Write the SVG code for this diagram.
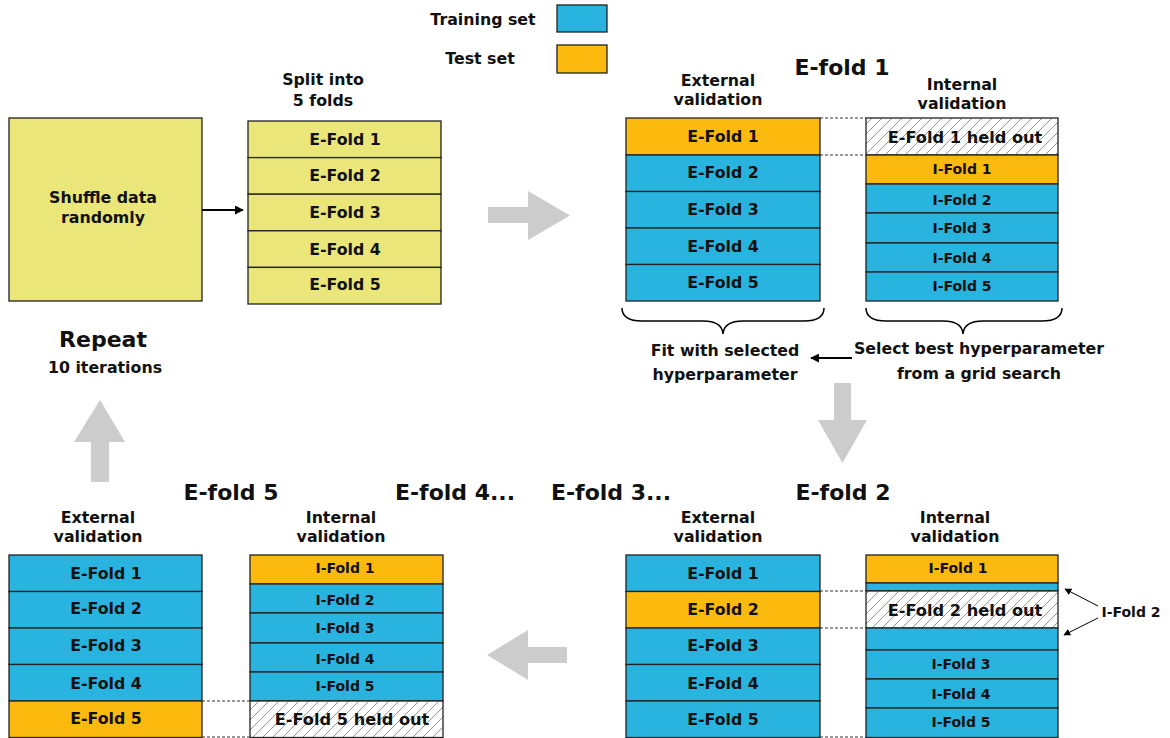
<svg xmlns="http://www.w3.org/2000/svg" width="1170" height="738" viewBox="0 0 1170 738">
<style>
text{font-family:"DejaVu Sans","Liberation Sans",sans-serif;font-weight:bold;fill:#111;text-anchor:middle}
.f{font-size:15.8px}
.s{font-size:14px}
.h{font-size:16.2px}
.t{font-size:22px}
.b{fill:#29B3DF;stroke:#222;stroke-width:1.3}
.o{fill:#FDBA0E;stroke:#222;stroke-width:1.3}
.y{fill:#EAE67A;stroke:#222;stroke-width:1.3}
.x{fill:url(#hatch);stroke:#222;stroke-width:1.3}
.d{stroke:#333;stroke-width:1.1;stroke-dasharray:3,2;fill:none}
.g{fill:#CCCCCC}
.k{stroke:#000;fill:none}
</style>
<defs>
<pattern id="hatch" patternUnits="userSpaceOnUse" width="10" height="10">
<rect width="10" height="10" fill="#fff"/>
<path d="M0,10 L10,0 M-2,2 L2,-2 M8,12 L12,8" stroke="#777" stroke-width="0.8"/>
</pattern>
<marker id="ah" viewBox="0 0 10 10" refX="9" refY="5" markerWidth="9" markerHeight="9" markerUnits="userSpaceOnUse" orient="auto">
<path d="M0,0 L10,5 L0,10 z" fill="#000"/>
</marker>
<marker id="ahs" viewBox="0 0 10 10" refX="9" refY="5" markerWidth="7" markerHeight="7" markerUnits="userSpaceOnUse" orient="auto">
<path d="M0,0 L10,5 L0,10 z" fill="#000"/>
</marker>
</defs>

<g id="legend">
<text class="f" x="483" y="25">Training set</text>
<rect x="557" y="5" width="50" height="27" class="b"/>
<text class="f" x="480" y="64">Test set</text>
<rect x="557" y="45" width="50" height="28" class="o"/>
</g>

<g id="shuffle">
<rect x="9" y="118" width="193" height="183" class="y"/>
<text class="f" x="103" y="203">Shuffle data</text>
<text class="f" x="103" y="223">randomly</text>
</g>

<g id="split">
<text class="f" x="323" y="85">Split into</text>
<text class="f" x="323" y="106">5 folds</text>
<rect x="248" y="121" width="193" height="36.6" class="y"/>
<rect x="248" y="157.6" width="193" height="36.6" class="y"/>
<rect x="248" y="194.2" width="193" height="36.6" class="y"/>
<rect x="248" y="230.8" width="193" height="36.6" class="y"/>
<rect x="248" y="267.4" width="193" height="36.6" class="y"/>
<text class="f" x="345" y="145">E-Fold 1</text>
<text class="f" x="345" y="181">E-Fold 2</text>
<text class="f" x="345" y="218">E-Fold 3</text>
<text class="f" x="345" y="255">E-Fold 4</text>
<text class="f" x="345" y="290">E-Fold 5</text>
</g>

<g id="efold1">
<text class="t" x="842" y="75">E-fold 1</text>
<text class="f" x="718" y="86">External</text>
<text class="f" x="718" y="105">validation</text>
<text class="f" x="962" y="90">Internal</text>
<text class="f" x="962" y="109">validation</text>
<rect x="626" y="118" width="194" height="37" class="o"/>
<rect x="626" y="155" width="194" height="36.5" class="b"/>
<rect x="626" y="191.5" width="194" height="36.5" class="b"/>
<rect x="626" y="228" width="194" height="36.5" class="b"/>
<rect x="626" y="264.5" width="194" height="36.5" class="b"/>
<text class="f" x="723" y="142">E-Fold 1</text>
<text class="f" x="723" y="178">E-Fold 2</text>
<text class="f" x="723" y="215">E-Fold 3</text>
<text class="f" x="723" y="252">E-Fold 4</text>
<text class="f" x="723" y="288">E-Fold 5</text>
<rect x="866" y="118" width="192" height="37" class="x"/>
<rect x="866" y="155" width="192" height="29" class="o"/>
<rect x="866" y="184" width="192" height="29" class="b"/>
<rect x="866" y="213" width="192" height="30" class="b"/>
<rect x="866" y="243" width="192" height="29" class="b"/>
<rect x="866" y="272" width="192" height="29" class="b"/>
<text class="h" x="965" y="143">E-Fold 1 held out</text>
<text class="s" x="962" y="174">I-Fold 1</text>
<text class="s" x="962" y="205">I-Fold 2</text>
<text class="s" x="962" y="233">I-Fold 3</text>
<text class="s" x="962" y="263">I-Fold 4</text>
<text class="s" x="962" y="291">I-Fold 5</text>
<path class="k" stroke-width="1.5" d="M622,308 Q622,321 642,321 L703,321 Q722,321 723,334 Q724,321 743,321 L804,321 Q824,321 824,308"/>
<path class="k" stroke-width="1.5" d="M866,308 Q866,321 886,321 L943,321 Q962,321 963,334 Q964,321 983,321 L1042,321 Q1062,321 1062,308"/>
<text class="f" x="725" y="356">Fit with selected</text>
<text class="f" x="725" y="380">hyperparameter</text>
<text class="f" x="979" y="354">Select best hyperparameter</text>
<text class="f" x="979" y="379">from a grid search</text>
</g>

<g id="titles">
<text class="t" x="231" y="500">E-fold 5</text>
<text class="t" x="455" y="500">E-fold 4...</text>
<text class="t" x="611" y="500">E-fold 3...</text>
<text class="t" x="843" y="500">E-fold 2</text>
</g>

<g id="efold2">
<text class="f" x="718" y="523">External</text>
<text class="f" x="718" y="542">validation</text>
<text class="f" x="955" y="523">Internal</text>
<text class="f" x="955" y="542">validation</text>
<rect x="626" y="555" width="194" height="36.5" class="b"/>
<rect x="626" y="591.5" width="194" height="36.5" class="o"/>
<rect x="626" y="628" width="194" height="36.5" class="b"/>
<rect x="626" y="664.5" width="194" height="36.5" class="b"/>
<rect x="626" y="701" width="194" height="36.5" class="b"/>
<text class="f" x="723" y="579">E-Fold 1</text>
<text class="f" x="723" y="615">E-Fold 2</text>
<text class="f" x="723" y="651">E-Fold 3</text>
<text class="f" x="723" y="689">E-Fold 4</text>
<text class="f" x="723" y="725">E-Fold 5</text>
<rect x="866" y="555" width="192" height="28" class="o"/>
<rect x="866" y="583" width="192" height="8" class="b"/>
<rect x="866" y="591" width="192" height="37" class="x"/>
<rect x="866" y="628" width="192" height="22" class="b"/>
<rect x="866" y="650" width="192" height="29" class="b"/>
<rect x="866" y="679" width="192" height="29" class="b"/>
<rect x="866" y="708" width="192" height="29.5" class="b"/>
<text class="s" x="958" y="573">I-Fold 1</text>
<text class="h" x="965" y="616">E-Fold 2 held out</text>
<text class="s" x="961" y="669">I-Fold 3</text>
<text class="s" x="961" y="699">I-Fold 4</text>
<text class="s" x="961" y="727">I-Fold 5</text>
<text class="s" x="1131" y="617">I-Fold 2</text>
</g>

<g id="efold5">
<text class="f" x="98" y="523">External</text>
<text class="f" x="98" y="542">validation</text>
<text class="f" x="341" y="523">Internal</text>
<text class="f" x="341" y="542">validation</text>
<rect x="9" y="555" width="193" height="36.5" class="b"/>
<rect x="9" y="591.5" width="193" height="36.5" class="b"/>
<rect x="9" y="628" width="193" height="36.5" class="b"/>
<rect x="9" y="664.5" width="193" height="36.5" class="b"/>
<rect x="9" y="701" width="193" height="36.5" class="o"/>
<text class="f" x="106" y="579">E-Fold 1</text>
<text class="f" x="106" y="614">E-Fold 2</text>
<text class="f" x="106" y="651">E-Fold 3</text>
<text class="f" x="106" y="689">E-Fold 4</text>
<text class="f" x="106" y="724">E-Fold 5</text>
<rect x="250" y="555" width="193" height="29" class="o"/>
<rect x="250" y="584" width="193" height="29" class="b"/>
<rect x="250" y="613" width="193" height="30" class="b"/>
<rect x="250" y="643" width="193" height="29" class="b"/>
<rect x="250" y="672" width="193" height="29" class="b"/>
<rect x="250" y="701" width="193" height="36.5" class="x"/>
<text class="s" x="345" y="573">I-Fold 1</text>
<text class="s" x="345" y="605">I-Fold 2</text>
<text class="s" x="345" y="633">I-Fold 3</text>
<text class="s" x="345" y="664">I-Fold 4</text>
<text class="s" x="345" y="691">I-Fold 5</text>
<text class="h" x="352" y="725">E-Fold 5 held out</text>
</g>

<g id="repeat">
<text class="t" x="103" y="347">Repeat</text>
<text class="f" x="105" y="373">10 iterations</text>
</g>

<g id="connectors">
<line x1="202" y1="210" x2="243" y2="210" class="k" stroke-width="2" marker-end="url(#ah)"/>
<line x1="852" y1="358" x2="811" y2="358" class="k" stroke-width="2" marker-end="url(#ah)"/>
<line x1="1098" y1="606" x2="1065" y2="589" class="k" stroke-width="1" marker-end="url(#ahs)"/>
<line x1="1098" y1="618" x2="1064" y2="635" class="k" stroke-width="1" marker-end="url(#ahs)"/>
<path class="d" d="M820,118 H866 M820,155 H866"/>
<path class="d" d="M820,591 H866 M820,628 H866 M820,737 H866"/>
<path class="d" d="M202,701 H250 M202,737 H250"/>
<path class="g" d="M488,207 H528 V191 L570,215.5 L528,240 V223 H488 z"/>
<path class="g" d="M834,383 H851 V420 H867 L842.5,463 L818,420 H834 z"/>
<path class="g" d="M567,647 H528 V630 L487,655 L528,680 V663 H567 z"/>
<path class="g" d="M91,482 V442 H74 L100,400 L125,442 H109 V482 z"/>
</g>
</svg>
